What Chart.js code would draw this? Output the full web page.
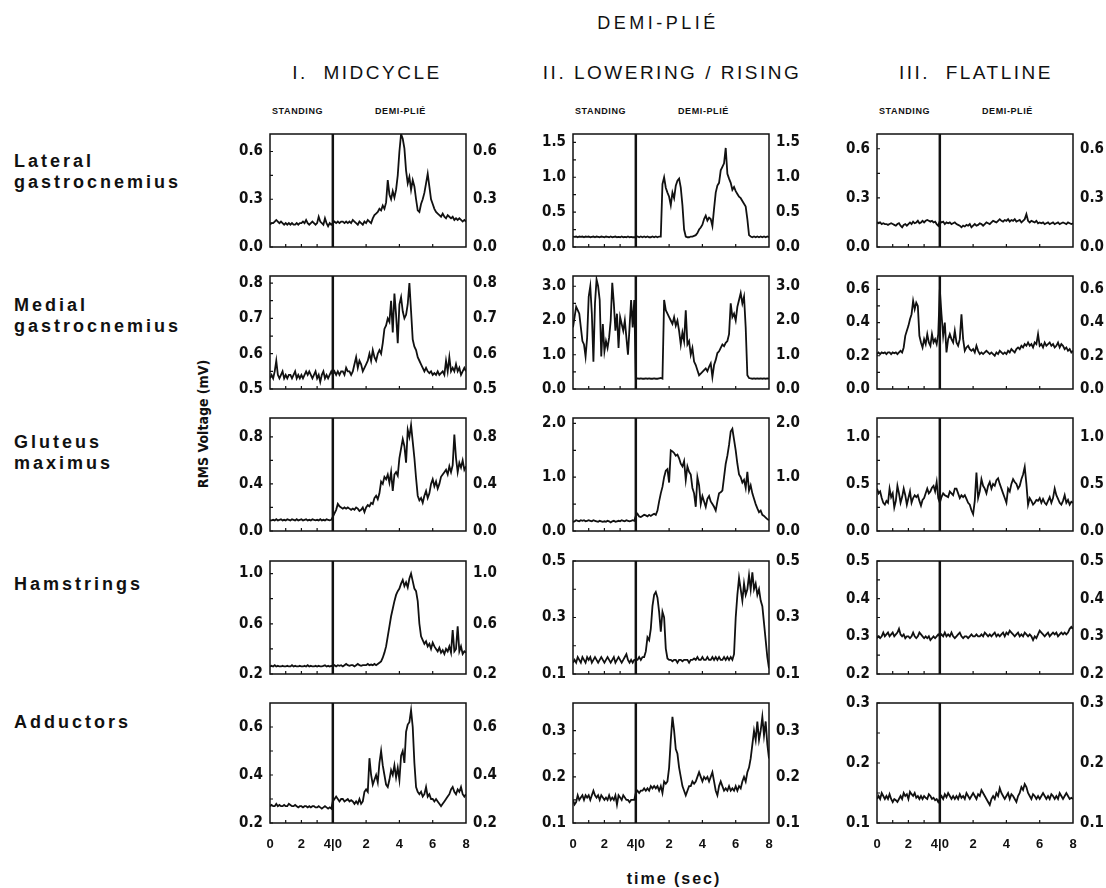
<!DOCTYPE html>
<html>
<head>
<meta charset="utf-8">
<script src="https://cdn.jsdelivr.net/npm/chart.js@4.4.1/dist/chart.umd.min.js"></script>
<style>
  body { margin: 0; background: #fff; width: 1106px; height: 888px; position: relative; overflow: hidden;
         font-family: 'Liberation Sans', Arial, sans-serif; color: #111; }
  .lbl { position: absolute; white-space: nowrap; line-height: 1; }
  .c { transform: translate(-50%, -50%); }
  canvas { position: absolute; }
</style>
</head>
<body>
<script>
// ==========================================
// DATA  (0.1 s samples: 40 standing [0-3.9 s] + 81 demi-plie [0-8 s])
// ==========================================
const sampleStep = 0.1;
const standingSamples = 40;
const standingSecs = 4;
const demiSecs = 8;
const demiScale = 1.06;            // demi-plie seconds are drawn slightly wider than standing ones
const standTickSecs = [0, 2];
const demiTickSecs = [0, 2, 4, 6, 8];
const xTickLabels = ['0', '2', '4|0', '2', '4', '6', '8'];
const standInnerSecs = [1, 2, 3];
const demiInnerSecs = [2, 4, 6];

const muscles = [['Lateral', 'gastrocnemius'], ['Medial', 'gastrocnemius'], ['Gluteus', 'maximus'], ['Hamstrings'], ['Adductors']];
const phases = ['I.  MIDCYCLE', 'II. LOWERING / RISING', 'III.  FLATLINE'];

// --- I. MIDCYCLE
const latGastMid = [
  0.14,0.15,0.15,0.16,0.17,0.16,0.15,0.16,0.15,0.14, 0.15,0.14,0.15,0.14,0.15,0.14,0.14,0.15,0.14,0.15,
  0.15,0.16,0.15,0.17,0.15,0.14,0.15,0.16,0.15,0.14, 0.15,0.19,0.16,0.15,0.14,0.18,0.15,0.13,0.15,0.14,
  0.15,0.16,0.15,0.16,0.15,0.16,0.16,0.15,0.16,0.15, 0.16,0.15,0.17,0.16,0.15,0.14,0.16,0.15,0.14,0.16,
  0.15,0.17,0.16,0.15,0.18,0.20,0.21,0.22,0.24,0.23, 0.26,0.24,0.28,0.42,0.33,0.30,0.35,0.31,0.36,0.45,
  0.60,0.71,0.68,0.62,0.48,0.40,0.44,0.36,0.42,0.38, 0.30,0.23,0.22,0.27,0.30,0.34,0.40,0.46,0.38,0.30,
  0.27,0.24,0.22,0.21,0.20,0.19,0.21,0.19,0.18,0.20, 0.19,0.18,0.19,0.17,0.18,0.17,0.18,0.17,0.16,0.17,0.16
];
const medGastMid = [
  0.53,0.54,0.53,0.55,0.58,0.54,0.53,0.54,0.55,0.53, 0.54,0.53,0.54,0.54,0.53,0.54,0.55,0.53,0.54,0.53,
  0.54,0.53,0.54,0.55,0.54,0.55,0.54,0.53,0.54,0.55, 0.53,0.54,0.52,0.54,0.55,0.53,0.54,0.53,0.54,0.55,
  0.54,0.55,0.54,0.55,0.54,0.55,0.55,0.54,0.56,0.55, 0.55,0.54,0.55,0.57,0.59,0.56,0.58,0.57,0.55,0.56,
  0.57,0.58,0.60,0.58,0.61,0.59,0.58,0.60,0.61,0.60, 0.63,0.67,0.68,0.70,0.69,0.75,0.66,0.77,0.71,0.63,
  0.74,0.76,0.72,0.70,0.71,0.74,0.80,0.72,0.64,0.62, 0.61,0.59,0.58,0.57,0.56,0.55,0.56,0.55,0.545,0.55,
  0.54,0.545,0.54,0.55,0.54,0.545,0.55,0.54,0.58,0.55, 0.59,0.55,0.56,0.55,0.57,0.55,0.56,0.54,0.55,0.56,0.55
];
const glutMid = [
  0.09,0.09,0.095,0.09,0.10,0.09,0.095,0.10,0.09,0.095, 0.09,0.10,0.095,0.09,0.10,0.095,0.09,0.10,0.09,0.095,
  0.10,0.09,0.095,0.10,0.09,0.095,0.09,0.10,0.095,0.09, 0.095,0.09,0.10,0.09,0.095,0.09,0.10,0.095,0.09,0.095,
  0.12,0.15,0.18,0.23,0.21,0.20,0.19,0.20,0.19,0.20, 0.19,0.18,0.19,0.18,0.20,0.19,0.17,0.18,0.20,0.16,
  0.20,0.22,0.21,0.24,0.23,0.28,0.30,0.27,0.32,0.42, 0.40,0.46,0.44,0.48,0.41,0.50,0.34,0.48,0.50,0.47,
  0.62,0.70,0.78,0.72,0.58,0.86,0.80,0.90,0.76,0.62, 0.45,0.30,0.26,0.28,0.24,0.30,0.34,0.28,0.32,0.40,
  0.44,0.38,0.42,0.36,0.40,0.46,0.48,0.50,0.52,0.48, 0.55,0.50,0.56,0.82,0.62,0.50,0.58,0.54,0.60,0.52,0.55
];
const hamMid = [
  0.26,0.265,0.26,0.27,0.26,0.265,0.26,0.26,0.265,0.26, 0.26,0.265,0.26,0.26,0.27,0.26,0.265,0.26,0.26,0.265,
  0.26,0.26,0.265,0.26,0.27,0.26,0.265,0.26,0.26,0.265, 0.26,0.265,0.26,0.26,0.265,0.27,0.26,0.265,0.26,0.265,
  0.26,0.27,0.26,0.27,0.265,0.27,0.26,0.27,0.28,0.27, 0.265,0.27,0.27,0.26,0.27,0.28,0.27,0.265,0.27,0.27,
  0.27,0.28,0.27,0.275,0.27,0.28,0.27,0.28,0.29,0.30, 0.33,0.37,0.42,0.50,0.58,0.66,0.72,0.78,0.83,0.86,
  0.88,0.92,0.95,0.90,0.93,0.89,0.96,1.00,0.94,0.88, 0.86,0.78,0.60,0.50,0.47,0.44,0.46,0.42,0.44,0.40,
  0.45,0.42,0.40,0.38,0.41,0.37,0.39,0.36,0.40,0.38, 0.42,0.37,0.55,0.38,0.40,0.58,0.38,0.42,0.36,0.38,0.37
];
const addMid = [
  0.27,0.275,0.27,0.27,0.28,0.27,0.275,0.27,0.27,0.275, 0.27,0.27,0.28,0.275,0.27,0.27,0.275,0.27,0.265,0.27,
  0.27,0.265,0.27,0.27,0.265,0.27,0.265,0.27,0.27,0.265, 0.265,0.27,0.265,0.26,0.265,0.27,0.265,0.26,0.265,0.26,
  0.29,0.30,0.31,0.30,0.29,0.30,0.30,0.29,0.295,0.30, 0.29,0.295,0.29,0.28,0.29,0.28,0.30,0.28,0.29,0.33,
  0.34,0.33,0.47,0.40,0.36,0.38,0.40,0.37,0.45,0.50, 0.44,0.40,0.36,0.35,0.38,0.42,0.40,0.44,0.39,0.43,
  0.38,0.48,0.50,0.45,0.58,0.61,0.62,0.67,0.60,0.45, 0.35,0.33,0.32,0.33,0.31,0.32,0.35,0.31,0.32,0.30,
  0.30,0.29,0.30,0.29,0.28,0.27,0.28,0.29,0.30,0.31, 0.32,0.34,0.35,0.33,0.32,0.34,0.33,0.35,0.32,0.31,0.32
];

// --- II. LOWERING / RISING
const latGastLow = [
  0.15,0.145,0.15,0.14,0.15,0.145,0.15,0.14,0.15,0.145, 0.15,0.14,0.145,0.15,0.14,0.15,0.145,0.14,0.15,0.145,
  0.14,0.15,0.145,0.14,0.15,0.14,0.145,0.15,0.14,0.145, 0.14,0.15,0.14,0.145,0.14,0.15,0.14,0.145,0.14,0.14,
  0.14,0.15,0.14,0.15,0.14,0.15,0.14,0.15,0.14,0.14, 0.15,0.14,0.15,0.14,0.15,0.15,0.90,1.00,0.85,0.78,
  0.72,0.60,0.78,0.70,0.88,0.95,0.98,0.85,0.60,0.25, 0.15,0.14,0.14,0.15,0.15,0.16,0.17,0.20,0.25,0.28,
  0.32,0.40,0.45,0.38,0.42,0.40,0.30,0.55,0.78,0.88, 0.92,1.10,1.15,1.20,1.42,1.05,0.98,0.92,0.82,0.86,
  0.80,0.76,0.72,0.70,0.66,0.62,0.58,0.40,0.17,0.15, 0.14,0.15,0.14,0.15,0.14,0.15,0.14,0.15,0.14,0.15,0.14
];
const medGastLow = [
  1.80,2.10,2.40,2.30,2.20,1.80,1.40,1.30,0.95,1.50, 2.70,3.00,2.20,0.80,2.50,3.20,3.00,2.60,0.95,1.90,
  1.10,1.40,1.20,1.50,2.00,3.10,2.50,1.70,2.20,1.20, 2.10,1.90,1.70,2.00,1.50,1.00,1.80,2.60,1.80,2.60,
  0.30,0.31,0.30,0.31,0.30,0.30,0.31,0.30,0.31,0.30, 0.30,0.31,0.30,0.30,0.31,0.32,0.30,2.60,2.30,2.20,
  2.10,2.00,1.90,2.10,1.85,2.00,1.70,1.30,1.65,1.40, 2.30,1.30,1.40,1.00,1.20,0.80,0.70,0.55,0.40,0.45,
  0.50,0.55,0.60,0.52,0.65,0.75,0.35,0.70,0.85,1.05, 1.10,1.20,1.30,1.25,1.35,1.40,1.60,2.50,2.10,2.20,
  2.00,2.40,2.60,2.80,2.50,2.70,1.80,0.40,0.32,0.31, 0.30,0.31,0.30,0.31,0.30,0.31,0.30,0.31,0.30,0.31,0.30
];
const glutLow = [
  0.17,0.18,0.20,0.19,0.18,0.20,0.19,0.20,0.18,0.19, 0.20,0.19,0.18,0.20,0.19,0.18,0.17,0.19,0.18,0.17,
  0.18,0.17,0.19,0.18,0.16,0.18,0.19,0.17,0.18,0.19, 0.18,0.20,0.19,0.18,0.20,0.19,0.18,0.19,0.20,0.19,
  0.28,0.32,0.27,0.26,0.28,0.30,0.29,0.27,0.30,0.28, 0.30,0.32,0.30,0.38,0.55,0.70,0.82,1.00,1.12,1.15,
  0.90,1.50,1.48,1.45,1.40,1.42,1.35,1.25,1.20,1.30, 0.95,1.20,1.10,1.05,0.80,0.70,0.45,1.00,0.85,0.50,
  0.65,0.55,0.45,0.60,0.65,0.55,0.50,0.45,0.38,0.55, 0.70,0.72,0.75,1.00,1.25,1.40,1.60,1.85,1.90,1.70,
  1.50,1.25,1.05,1.00,0.90,0.95,0.80,1.10,0.75,0.85, 0.70,0.60,0.50,0.42,0.35,0.38,0.30,0.28,0.25,0.22,0.20
];
const hamLow = [
  0.14,0.15,0.14,0.16,0.15,0.14,0.16,0.15,0.14,0.16, 0.15,0.16,0.14,0.15,0.16,0.15,0.14,0.15,0.16,0.15,
  0.14,0.15,0.16,0.15,0.14,0.15,0.16,0.14,0.15,0.16, 0.15,0.14,0.15,0.16,0.17,0.15,0.14,0.15,0.14,0.15,
  0.15,0.15,0.16,0.15,0.16,0.16,0.18,0.23,0.22,0.26, 0.34,0.38,0.39,0.37,0.32,0.25,0.32,0.30,0.19,0.155,
  0.15,0.15,0.145,0.15,0.15,0.14,0.15,0.15,0.145,0.15, 0.15,0.15,0.14,0.15,0.15,0.155,0.15,0.16,0.15,0.15,
  0.16,0.15,0.15,0.16,0.15,0.15,0.16,0.15,0.16,0.15, 0.16,0.15,0.15,0.16,0.15,0.16,0.15,0.16,0.15,0.17,
  0.30,0.38,0.44,0.40,0.36,0.42,0.38,0.40,0.45,0.40, 0.46,0.40,0.42,0.38,0.40,0.36,0.34,0.28,0.22,0.16,0.12
];
const addLow = [
  0.15,0.14,0.145,0.16,0.15,0.155,0.16,0.15,0.16,0.155, 0.16,0.15,0.16,0.17,0.16,0.155,0.16,0.15,0.16,0.155,
  0.15,0.155,0.15,0.16,0.15,0.155,0.15,0.16,0.14,0.16, 0.155,0.15,0.16,0.155,0.15,0.15,0.145,0.15,0.15,0.15,
  0.165,0.17,0.165,0.17,0.17,0.175,0.17,0.175,0.17,0.18, 0.175,0.18,0.175,0.18,0.17,0.18,0.165,0.19,0.185,0.19,
  0.22,0.28,0.33,0.30,0.26,0.25,0.22,0.20,0.18,0.17, 0.16,0.17,0.18,0.18,0.19,0.185,0.19,0.20,0.21,0.20,
  0.19,0.20,0.195,0.20,0.19,0.20,0.21,0.19,0.17,0.16, 0.18,0.19,0.18,0.17,0.175,0.17,0.18,0.17,0.175,0.17,
  0.18,0.17,0.18,0.175,0.19,0.20,0.19,0.21,0.22,0.24, 0.27,0.30,0.28,0.32,0.28,0.30,0.33,0.29,0.32,0.27,0.24
];

// --- III. FLATLINE
const latGastFlat = [
  0.15,0.145,0.15,0.14,0.145,0.14,0.14,0.135,0.14,0.145, 0.14,0.135,0.13,0.14,0.145,0.13,0.12,0.135,0.14,0.13,
  0.14,0.15,0.14,0.155,0.145,0.15,0.16,0.145,0.15,0.16, 0.15,0.16,0.165,0.16,0.155,0.16,0.15,0.155,0.14,0.13,
  0.16,0.15,0.155,0.14,0.15,0.145,0.15,0.14,0.145,0.15, 0.14,0.135,0.13,0.12,0.13,0.125,0.135,0.13,0.14,0.12,
  0.13,0.14,0.13,0.135,0.145,0.14,0.13,0.14,0.15,0.145, 0.14,0.15,0.16,0.155,0.15,0.16,0.17,0.16,0.155,0.165,
  0.16,0.17,0.155,0.165,0.16,0.17,0.155,0.16,0.165,0.15, 0.16,0.17,0.20,0.16,0.15,0.16,0.155,0.15,0.16,0.145,
  0.15,0.145,0.15,0.14,0.145,0.15,0.14,0.145,0.15,0.14, 0.145,0.15,0.14,0.145,0.15,0.145,0.14,0.15,0.145,0.14,0.145
];
const medGastFlat = [
  0.21,0.22,0.21,0.22,0.215,0.22,0.21,0.22,0.22,0.21, 0.22,0.215,0.22,0.21,0.22,0.23,0.22,0.25,0.32,0.35,
  0.38,0.42,0.45,0.53,0.48,0.52,0.50,0.32,0.28,0.25, 0.30,0.27,0.33,0.28,0.26,0.33,0.28,0.30,0.27,0.33,
  0.60,0.45,0.32,0.40,0.22,0.30,0.33,0.30,0.28,0.35, 0.28,0.26,0.30,0.45,0.30,0.23,0.25,0.26,0.24,0.23,
  0.24,0.22,0.26,0.23,0.21,0.22,0.21,0.22,0.23,0.22, 0.21,0.22,0.21,0.20,0.22,0.21,0.23,0.22,0.21,0.22,
  0.21,0.23,0.22,0.24,0.23,0.22,0.24,0.25,0.24,0.26, 0.25,0.27,0.26,0.28,0.26,0.27,0.25,0.28,0.27,0.33,
  0.26,0.27,0.25,0.28,0.26,0.27,0.28,0.26,0.27,0.25, 0.26,0.28,0.25,0.27,0.26,0.24,0.25,0.23,0.24,0.22,0.23
];
const glutFlat = [
  0.45,0.40,0.42,0.35,0.30,0.28,0.32,0.30,0.45,0.36, 0.40,0.25,0.32,0.48,0.40,0.30,0.36,0.45,0.38,0.28,
  0.35,0.42,0.30,0.35,0.38,0.36,0.38,0.32,0.27,0.33, 0.35,0.40,0.45,0.40,0.42,0.46,0.48,0.42,0.52,0.35,
  0.30,0.36,0.40,0.38,0.37,0.36,0.42,0.40,0.38,0.45, 0.45,0.40,0.35,0.38,0.36,0.38,0.34,0.30,0.28,0.22,
  0.18,0.32,0.62,0.35,0.42,0.55,0.48,0.45,0.40,0.48, 0.52,0.45,0.50,0.48,0.54,0.56,0.50,0.45,0.40,0.35,
  0.30,0.45,0.42,0.50,0.55,0.52,0.50,0.45,0.48,0.55, 0.60,0.68,0.50,0.28,0.35,0.32,0.28,0.30,0.33,0.32,
  0.35,0.30,0.34,0.30,0.28,0.32,0.36,0.30,0.35,0.45, 0.38,0.34,0.30,0.28,0.32,0.38,0.30,0.33,0.28,0.31,0.30
];
const hamFlat = [
  0.295,0.30,0.295,0.30,0.31,0.30,0.305,0.31,0.30,0.305, 0.31,0.30,0.305,0.31,0.32,0.305,0.30,0.305,0.295,0.30,
  0.30,0.295,0.30,0.31,0.30,0.295,0.30,0.31,0.305,0.30, 0.295,0.30,0.295,0.30,0.29,0.295,0.30,0.295,0.30,0.305,
  0.30,0.305,0.30,0.31,0.30,0.305,0.30,0.31,0.30,0.295, 0.30,0.305,0.31,0.30,0.295,0.30,0.30,0.295,0.30,0.305,
  0.30,0.30,0.305,0.30,0.30,0.305,0.30,0.31,0.305,0.30, 0.305,0.30,0.305,0.31,0.30,0.305,0.30,0.305,0.31,0.30,
  0.31,0.305,0.315,0.31,0.305,0.30,0.305,0.31,0.30,0.305, 0.30,0.31,0.305,0.30,0.305,0.30,0.29,0.30,0.295,0.305,
  0.315,0.31,0.305,0.30,0.305,0.31,0.30,0.305,0.31,0.305, 0.31,0.30,0.305,0.31,0.305,0.31,0.305,0.31,0.32,0.325,0.32
];
const addFlat = [
  0.14,0.145,0.14,0.15,0.145,0.14,0.145,0.14,0.148,0.14, 0.135,0.14,0.138,0.135,0.14,0.145,0.14,0.15,0.145,0.148,
  0.14,0.152,0.148,0.145,0.15,0.142,0.145,0.14,0.145,0.14, 0.145,0.142,0.14,0.148,0.145,0.14,0.142,0.138,0.14,0.135,
  0.14,0.145,0.14,0.148,0.143,0.15,0.145,0.14,0.145,0.14, 0.145,0.14,0.148,0.142,0.145,0.14,0.15,0.145,0.14,0.145,
  0.15,0.145,0.14,0.148,0.145,0.155,0.15,0.145,0.14,0.135, 0.13,0.14,0.145,0.14,0.15,0.145,0.158,0.15,0.145,0.14,
  0.145,0.15,0.14,0.148,0.145,0.14,0.135,0.145,0.15,0.16, 0.155,0.165,0.16,0.15,0.145,0.14,0.148,0.145,0.14,0.145,
  0.14,0.145,0.15,0.145,0.14,0.145,0.14,0.148,0.145,0.14, 0.145,0.14,0.15,0.145,0.14,0.145,0.15,0.145,0.14,0.142,0.14
];

const series = [
  [latGastMid, latGastLow, latGastFlat],
  [medGastMid, medGastLow, medGastFlat],
  [glutMid, glutLow, glutFlat],
  [hamMid, hamLow, hamFlat],
  [addMid, addLow, addFlat]
];
const yMin = [[0, 0, 0], [0.5, 0, 0], [0, 0, 0], [0.2, 0.1, 0.2], [0.2, 0.1, 0.1]];
const yMax = [[0.71, 1.62, 0.69], [0.82, 3.3, 0.68], [0.96, 2.1, 1.2], [1.1, 0.5, 0.5], [0.7, 0.36, 0.3]];
const yTicks = [
  [[0, 0.3, 0.6], [0, 0.5, 1.0, 1.5], [0, 0.3, 0.6]],
  [[0.5, 0.6, 0.7, 0.8], [0, 1, 2, 3], [0, 0.2, 0.4, 0.6]],
  [[0, 0.4, 0.8], [0, 1, 2], [0, 0.5, 1.0]],
  [[0.2, 0.6, 1.0], [0.1, 0.3, 0.5], [0.2, 0.3, 0.4, 0.5]],
  [[0.2, 0.4, 0.6], [0.1, 0.2, 0.3], [0.1, 0.2, 0.3]]
];

// ==========================================
// LAYOUT
// ==========================================
const colLeft = [270, 573, 877];
const rowTop = [130, 272, 414, 557, 699];
const plotW = 196, plotH = 124, axisW = 45;
const ink = '#111';
const narrow = "'Liberation Sans Narrow', 'DejaVu Sans Condensed', sans-serif";

// standing seconds and demi-plie seconds share one linear axis
const xOfStand = t => t;
const xOfDemi = t => standingSecs + t * demiScale;
const xMax = xOfDemi(demiSecs);
const xTickValues = standTickSecs.map(xOfStand).concat(demiTickSecs.map(xOfDemi));
const xInnerTicks = standInnerSecs.map(xOfStand).concat(demiInnerSecs.map(xOfDemi));
const splitAt = xOfDemi(0);

function addText(txt, x, y, css, centered) {
  const d = document.createElement('div');
  d.className = 'lbl' + (centered ? ' c' : '');
  d.textContent = txt;
  d.style.left = x + 'px';
  d.style.top = y + 'px';
  d.style.cssText += css;
  document.body.appendChild(d);
  return d;
}

addText('DEMI-PLIÉ', 658, 23, 'font-size:18px;letter-spacing:3.5px;', true);
const titleX = [367, 672, 976];
phases.forEach((p, c) => addText(p, titleX[c], 72, 'font-size:19px;letter-spacing:2.5px;white-space:pre;', true));
colLeft.forEach(x => {
  addText('STANDING', x + 2, 107, 'font-size:9px;font-weight:bold;letter-spacing:0.6px;', false);
  addText('DEMI-PLIÉ', x + 105, 107, 'font-size:9px;font-weight:bold;letter-spacing:0.6px;', false);
});
const muscleY = [161, 305, 442, 584, 722];
muscles.forEach((lines, r) => {
  lines.forEach((ln, k) => addText(ln, 14, muscleY[r] + k * 21 - 9, 'font-size:18px;font-weight:bold;letter-spacing:3px;', false));
});
addText('RMS Voltage (mV)', 203, 424, "font-size:14px;font-weight:bold;font-family:" + narrow + ";transform:translate(-50%,-50%) rotate(-90deg);", false);
addText('time (sec)', 674, 879, 'font-size:16px;font-weight:bold;letter-spacing:2px;', true);

// frame, split line and inner tick marks
const framePlugin = {
  id: 'frame',
  afterDatasetsDraw(chart) {
    const { ctx, chartArea: a, scales } = chart;
    ctx.save();
    ctx.strokeStyle = ink;
    ctx.lineWidth = 1.5;
    ctx.strokeRect(a.left, a.top, a.right - a.left, a.bottom - a.top);
    const sx = scales.x.getPixelForValue(splitAt);
    ctx.lineWidth = 2.5;
    ctx.beginPath(); ctx.moveTo(sx, a.top); ctx.lineTo(sx, a.bottom); ctx.stroke();
    ctx.lineWidth = 1.2;
    ctx.beginPath();
    xInnerTicks.forEach(v => {
      const px = scales.x.getPixelForValue(v);
      ctx.moveTo(px, a.bottom); ctx.lineTo(px, a.bottom - 3);
    });
    scales.y.ticks.forEach(t => {
      const py = scales.y.getPixelForValue(t.value);
      ctx.moveTo(a.left, py); ctx.lineTo(a.left + 3, py);
    });
    ctx.stroke();
    ctx.restore();
  }
};

function yScale(r, c, pos) {
  const major = yTicks[r][c];
  const isMajor = v => major.some(m => Math.abs(m - v) < 1e-9);
  return {
    type: 'linear', position: pos, min: yMin[r][c], max: yMax[r][c],
    afterBuildTicks: s => {
      const all = major.slice();
      for (let i = 0; i < major.length - 1; i++) all.push((major[i] + major[i + 1]) / 2);
      all.sort((a, b) => a - b);
      s.ticks = all.map(v => ({ value: v }));
    },
    afterFit: s => { s.width = axisW; },
    grid: { display: false, drawTicks: false },
    border: { display: false },
    ticks: {
      padding: 7, color: ink, autoSkip: false,
      font: { family: narrow, size: 15, weight: 'bold' },
      callback: v => isMajor(v) ? v.toFixed(1) : ''
    }
  };
}

function makePanel(r, c) {
  const last = r === series.length - 1;
  const padTop = 12, padBottom = last ? 0 : 9, xAxisH = last ? 32 : 0;
  const w = plotW + 2 * axisW, h = padTop + plotH + padBottom + xAxisH;
  const canvas = document.createElement('canvas');
  canvas.width = w; canvas.height = h;
  canvas.style.left = (colLeft[c] - axisW) + 'px';
  canvas.style.top = (rowTop[r] - padTop) + 'px';
  canvas.style.width = w + 'px'; canvas.style.height = h + 'px';
  document.body.appendChild(canvas);

  const vals = series[r][c];
  const points = vals.map((v, i) => ({
    x: i < standingSamples ? xOfStand(i * sampleStep) : xOfDemi((i - standingSamples) * sampleStep),
    y: v
  }));
  new Chart(canvas, {
    type: 'line',
    data: {
      datasets: [{
        data: points,
        borderColor: ink, borderWidth: 1.8, pointRadius: 0, tension: 0, fill: false
      }]
    },
    options: {
      responsive: false, animation: false, devicePixelRatio: 1,
      layout: { padding: { top: padTop, bottom: padBottom, left: 0, right: 0 } },
      plugins: { legend: { display: false }, tooltip: { enabled: false } },
      scales: {
        x: {
          type: 'linear', min: 0, max: xMax,
          afterBuildTicks: s => { s.ticks = xTickValues.map(v => ({ value: v })); },
          afterFit: s => { s.height = xAxisH; },
          grid: { display: false, drawTicks: false },
          border: { display: false },
          ticks: {
            display: last, autoSkip: false, maxRotation: 0, padding: 14, color: ink,
            font: { family: "'Liberation Sans', Arial, sans-serif", size: 13, weight: 'bold' },
            callback: (v, i) => xTickLabels[i]
          }
        },
        y: yScale(r, c, 'left'),
        y2: yScale(r, c, 'right')
      }
    },
    plugins: [framePlugin]
  });
}

series.forEach((row, r) => row.forEach((_, c) => makePanel(r, c)));
</script>
</body>
</html>
